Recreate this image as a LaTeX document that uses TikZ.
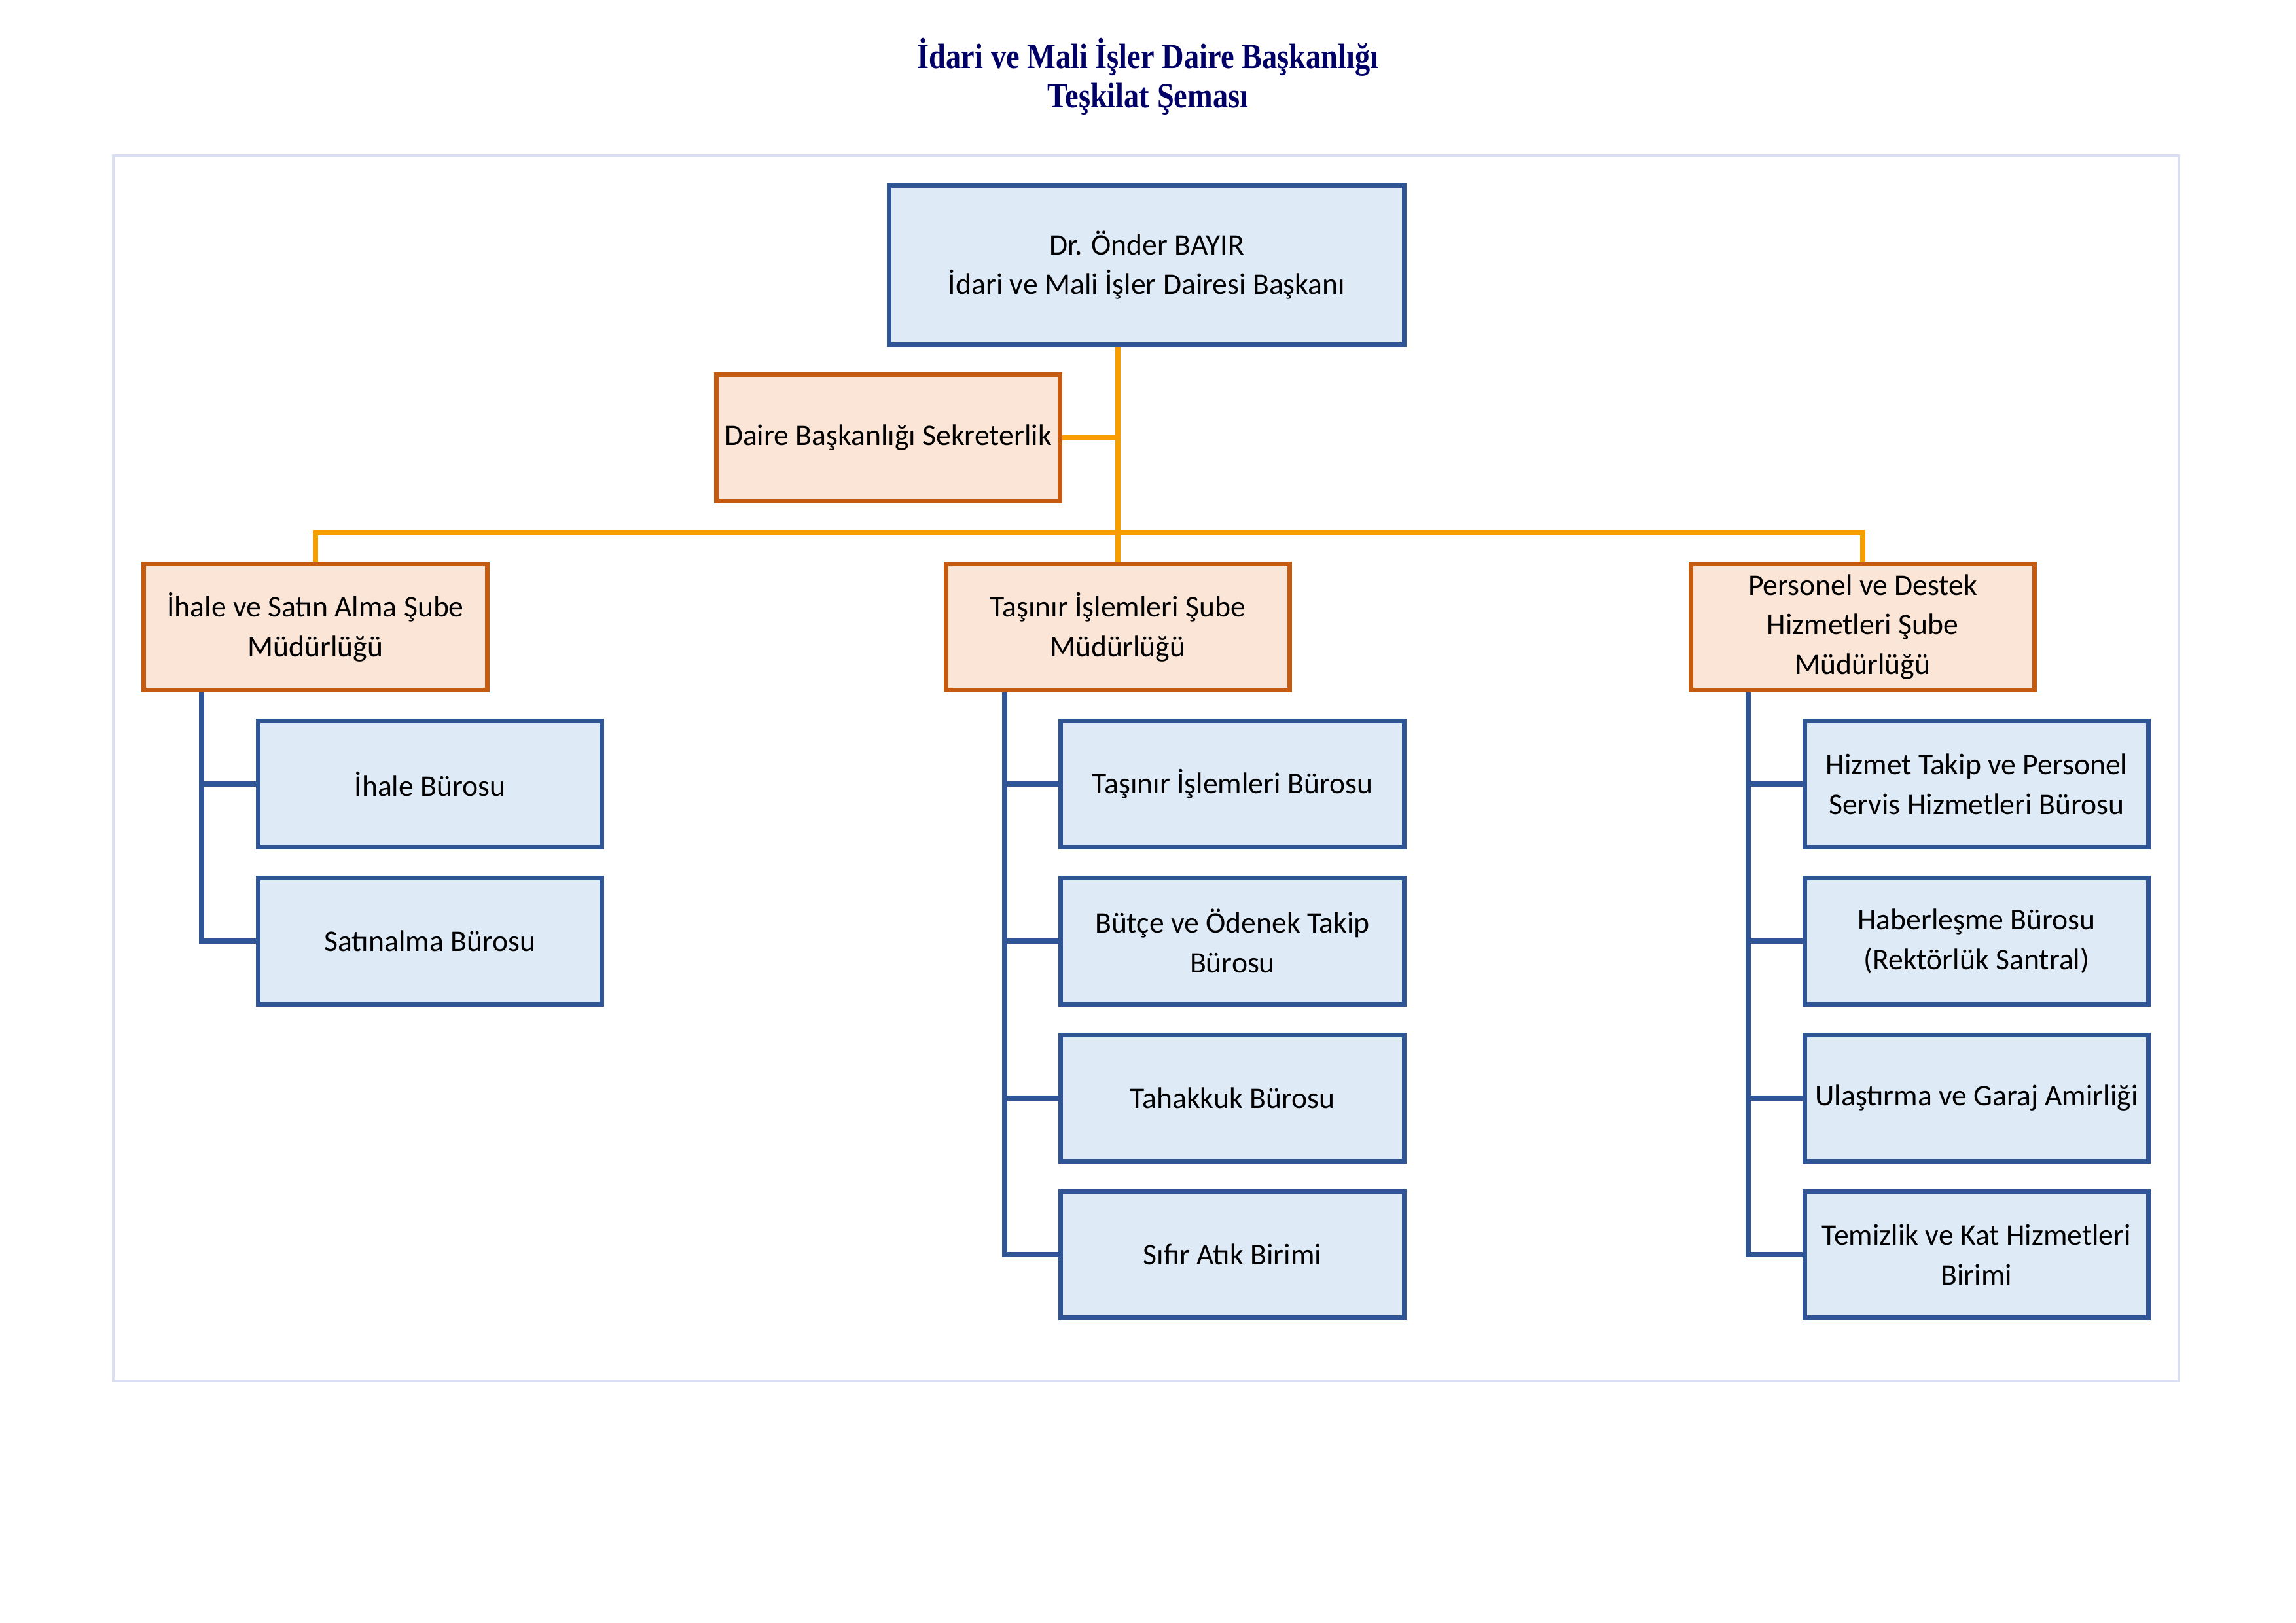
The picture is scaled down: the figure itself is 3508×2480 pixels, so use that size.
\documentclass[tikz,border=0pt]{standalone}
\usepackage{fontspec}
\setmainfont{Carlito}
\newfontfamily\titlefont[FakeStretch=0.86]{Liberation Serif}
\definecolor{bborder}{RGB}{47,85,151}
\definecolor{bfill}{RGB}{222,235,247}
\definecolor{oborder}{RGB}{197,90,17}
\definecolor{ofill}{RGB}{251,229,214}
\definecolor{oline}{RGB}{247,157,0}
\definecolor{frame}{RGB}{217,223,241}
\definecolor{navy}{RGB}{0,0,102}
\tikzset{
  base/.style={draw, line width=1.7pt, align=center, inner sep=0.5mm,
    font=\fontsize{11}{14.6}\selectfont, text=black},
  bluebox/.style={base, draw=bborder, fill=bfill, minimum width=44.5mm, minimum height=16.3mm},
  orangebox/.style={base, draw=oborder, fill=ofill, minimum width=44.5mm, minimum height=16.3mm},
  oconn/.style={draw=oline, line width=1.9pt},
  bconn/.style={draw=bborder, line width=1.9pt},
}
\begin{document}
\begin{tikzpicture}[x=0.08466mm, y=-0.08466mm]
\useasboundingbox (0,0) rectangle (3508,2480);
\fill[white] (0,0) rectangle (3508,2480);
% title
\node[font=\titlefont\bfseries\fontsize{13}{14.5}\selectfont, text=navy, align=center] (title) at (1754,117) {İdari ve Mali İşler Daire Başkanlığı\\Teşkilat Şeması};
% frame
\draw[frame, line width=1.1pt] (173,238) rectangle (3329,2110);
% connectors (drawn first, under boxes)
\coordinate (bus) at (1708,814);
\coordinate (sl) at (308,0);
\coordinate (sm) at (1535,0);
\coordinate (sr) at (2671,0);
% top
\node[bluebox, minimum width=66.6mm, minimum height=20.5mm] (top) at (1752,405) {Dr. Önder BAYIR\\İdari ve Mali İşler Dairesi Başkanı};
\node[orangebox] (sek) at (1357,669) {Daire Başkanlığı Sekreterlik};
% branches
\node[orangebox] (b1) at (482,958) {İhale ve Satın Alma Şube\\Müdürlüğü};
\node[orangebox] (b2) at (1708,958) {Taşınır İşlemleri Şube\\Müdürlüğü};
\node[orangebox] (b3) at (2846,958) {Personel ve Destek\\Hizmetleri Şube\\Müdürlüğü};
% children left
\node[bluebox] (l1) at (657,1198) {İhale Bürosu};
\node[bluebox] (l2) at (657,1438) {Satınalma Bürosu};
% children middle
\node[bluebox] (m1) at (1883,1198) {Taşınır İşlemleri Bürosu};
\node[bluebox] (m2) at (1883,1438) {Bütçe ve Ödenek Takip\\Bürosu};
\node[bluebox] (m3) at (1883,1678) {Tahakkuk Bürosu};
\node[bluebox] (m4) at (1883,1917) {Sıfır Atık Birimi};
% children right
\node[bluebox] (r1) at (3020,1198) {Hizmet Takip ve Personel\\Servis Hizmetleri Bürosu};
\node[bluebox] (r2) at (3020,1438) {Haberleşme Bürosu\\(Rektörlük Santral)};
\node[bluebox] (r3) at (3020,1678) {Ulaştırma ve Garaj Amirliği};
\node[bluebox] (r4) at (3020,1917) {Temizlik ve Kat Hizmetleri\\Birimi};
% connectors
\draw[oconn] (top.south -| b2.north) -- (b2.north);
\draw[oconn] (sek.east) -- (sek.east -| b2.north);
\draw[oconn] (b1.north) |- (bus) -| (b3.north);
\draw[bconn] (b1.south -| sl) |- (l2.west);
\draw[bconn] (l1.west -| sl) -- (l1.west);
\draw[bconn] (b2.south -| sm) |- (m4.west);
\foreach \n in {m1,m2,m3} \draw[bconn] (\n.west -| sm) -- (\n.west);
\draw[bconn] (b3.south -| sr) |- (r4.west);
\foreach \n in {r1,r2,r3} \draw[bconn] (\n.west -| sr) -- (\n.west);
\end{tikzpicture}
\end{document}
